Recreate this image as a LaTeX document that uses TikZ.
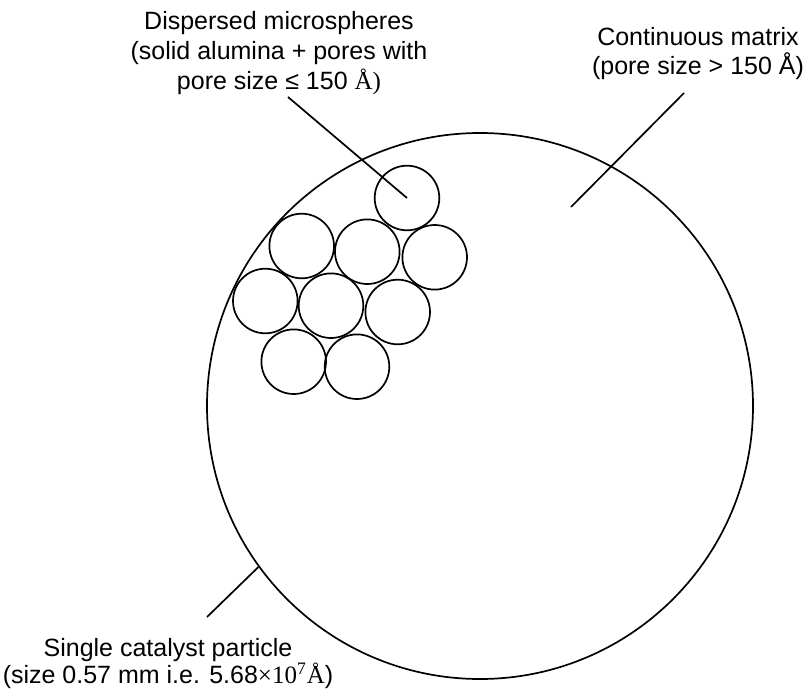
\documentclass[tikz,border=0pt]{standalone}
\usepackage{fontspec}
\setmainfont{Liberation Sans}
\newfontfamily\timesfont{Liberation Serif}
\begin{document}
\begin{tikzpicture}[x=0.5pt, y=-0.5pt,
    grain/.style={draw, circle, line width=0.85pt, minimum size=273pt, inner sep=0pt},
    sphere/.style={draw, circle, line width=0.85pt, minimum size=32.3pt, inner sep=0pt},
    desc/.style={align=center, inner sep=0pt, anchor=base},
    leader/.style={line width=0.85pt}]
    \useasboundingbox (0,0) rectangle (804,691);
    % the particle
    \node[grain] (particle) at (480,406) {};
    % packed microspheres
    \node[sphere] (m1) at (407,198) {};
    \node[sphere] (m2) at (301.7,246) {};
    \node[sphere] (m3) at (367.3,251.7) {};
    \node[sphere] (m4) at (434.7,257.3) {};
    \node[sphere] (m5) at (265.3,301) {};
    \node[sphere] (m6) at (331,305.7) {};
    \node[sphere] (m7) at (397.7,312) {};
    \node[sphere] (m8) at (293.7,361.7) {};
    \node[sphere] (m9) at (357,366.7) {};
    % captions (base = last line)
    \node[desc, font=\fontsize{12.5}{15}\selectfont] (micro) at (279,89.3)
        {Dispersed microspheres\\(solid alumina + pores with\\pore size ≤ 150 {\timesfont Å)}};
    \node[desc, font=\fontsize{12.5}{14.2}\selectfont] (matrix) at (698,74)
        {Continuous matrix\\(pore size > 150 Å)};
    \node[desc, font=\fontsize{12.5}{13.3}\selectfont] (single) at (168,683.3)
        {Single catalyst particle\\(size 0.57 mm i.e. 5.68{\timesfont ×10\textsuperscript{7}Å})};
    % leader lines
    \coordinate (microtail) at (288,97);
    \coordinate (matrixtail) at (684,93);
    \coordinate (matrixhead) at (571,207);
    \coordinate (singletail) at (207,617);
    \draw[leader] (microtail) -- (m1.center);
    \draw[leader] (matrixtail) -- (matrixhead);
    \draw[leader] (singletail) -- (particle.216);
\end{tikzpicture}
\end{document}
